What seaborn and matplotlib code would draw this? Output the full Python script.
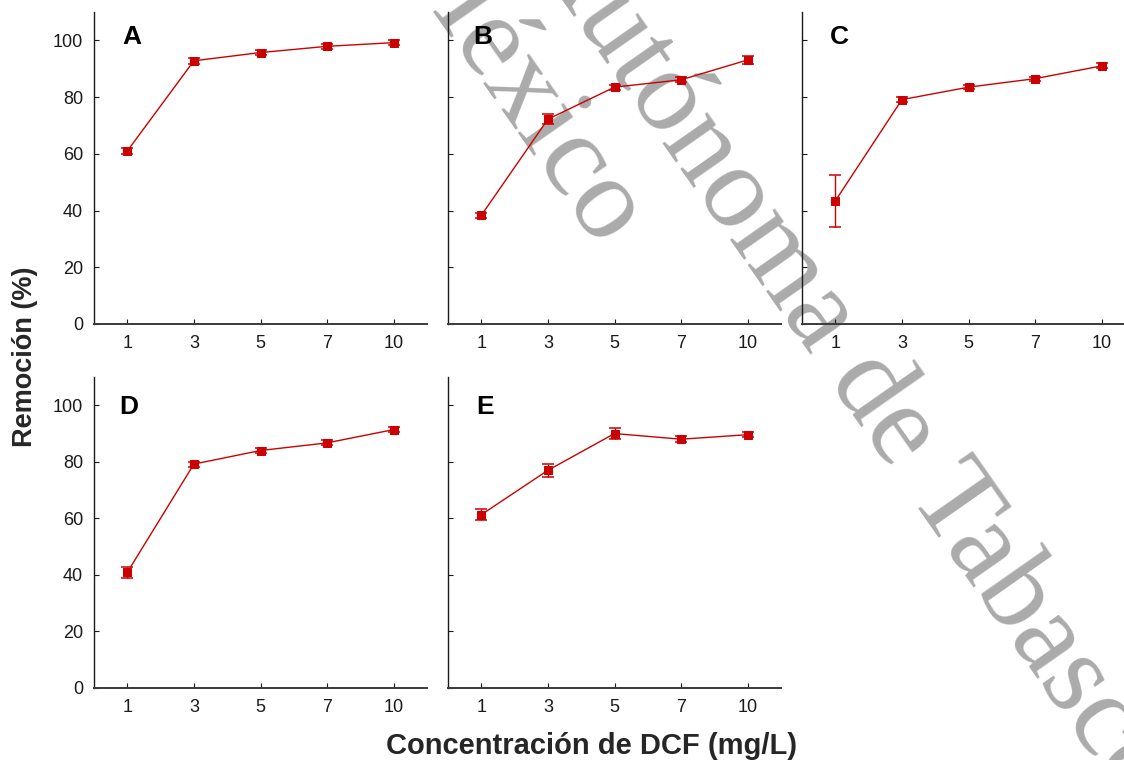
import numpy as np
import pandas as pd
import matplotlib
matplotlib.use("Agg")
import matplotlib.pyplot as plt
import seaborn as sns

# ---------------- data ----------------
conc_labels = ["1", "3", "5", "7", "10"]
panel_names = ["A", "B", "C", "D", "E"]

rem_A = [61.0, 92.8, 95.7, 97.9, 99.2]
err_A = [1.2, 1.0, 0.8, 0.8, 0.8]
rem_B = [38.3, 72.2, 83.5, 86.1, 93.1]
err_B = [0.9, 1.8, 0.9, 0.9, 1.3]
rem_C = [43.4, 79.1, 83.5, 86.5, 91.0]
err_C = [9.2, 0.9, 0.8, 0.7, 0.9]
rem_D = [40.9, 79.2, 84.0, 86.7, 91.4]
err_D = [1.9, 0.9, 0.8, 0.9, 1.0]
rem_E = [61.3, 77.0, 90.0, 88.0, 89.6]
err_E = [1.9, 2.2, 2.0, 1.0, 0.8]

series = {"A": (rem_A, err_A), "B": (rem_B, err_B), "C": (rem_C, err_C),
          "D": (rem_D, err_D), "E": (rem_E, err_E)}

ylabel = "Remoción (%)"
xlabel = "Concentración de DCF (mg/L)"
yticks = [0, 20, 40, 60, 80, 100]
watermark_1 = "Autónoma de Tabasco"
watermark_2 = "México"

RED = "#cc0000"

# ---------------- style ----------------
sns.set_style("ticks")
plt.rcParams["font.family"] = ["Liberation Sans", "DejaVu Sans"]

W, H = 1124, 760
fig = plt.figure(figsize=(W / 100, H / 100), dpi=100)
fig.patch.set_facecolor("white")

def px_rect(left, right, bottom, top):
    return [left / W, (H - bottom) / H, (right - left) / W, (bottom - top) / H]

rects = {
    "A": px_rect(94, 427, 324, 12),
    "B": px_rect(448, 781, 324, 12),
    "C": px_rect(802, 1135, 324, 12),
    "D": px_rect(94, 427, 688, 377),
    "E": px_rect(448, 781, 688, 377),
}

for name in panel_names:
    vals, errs = series[name]
    ax = fig.add_axes(rects[name])
    ax.set_facecolor("none")
    df = pd.DataFrame({"conc": conc_labels, "rem": vals})
    sns.pointplot(data=df, x="conc", y="rem", order=conc_labels, color=RED,
                  markers="s", linestyles="-", errorbar=None, ax=ax,
                  markersize=6.4, linewidth=1.0)
    ax.errorbar(np.arange(len(conc_labels)), vals, yerr=errs, fmt="none",
                ecolor=RED, elinewidth=1.0, capsize=4.5, capthick=1.1, zorder=3)
    ax.set_xlim(-0.5, len(conc_labels) - 0.5)
    ax.set_ylim(0, 110)
    ax.set_yticks(yticks)
    ax.set_xlabel("")
    ax.set_ylabel("")
    for s in ["top", "right"]:
        ax.spines[s].set_visible(False)
    ax.spines["left"].set_color("#1a1a1a")
    ax.spines["left"].set_linewidth(1.0)
    ax.spines["bottom"].set_color("#3a3a3a")
    ax.spines["bottom"].set_linewidth(1.4)
    ax.tick_params(axis="both", direction="in", length=3.5, width=0.8,
                   color="#1a1a1a", labelsize=13, labelcolor="#1a1a1a", pad=8)
    if name in ("A", "D"):
        ax.set_yticklabels([str(t) for t in yticks])
    else:
        ax.set_yticklabels([])
    ypos = 0.92 if name in ("A", "B", "C") else 0.904
    xpos = 0.084 if name in ("A", "C", "E") else 0.076
    ax.text(xpos, ypos, name, transform=ax.transAxes, fontsize=19,
            fontweight="bold", ha="left", va="center", color="black")

fig.text(25 / W, 1 - 357 / H, ylabel, rotation=90, fontsize=19.5,
         fontweight="bold", ha="center", va="center")
fig.text(592 / W, 1 - 746 / H, xlabel, fontsize=21, fontweight="bold",
         ha="center", va="center")

# watermark (behind the data)
wm_kw = dict(fontsize=85, color="#ababab", rotation=-55, rotation_mode="anchor",
             ha="center", va="center", zorder=-1,
             family=["Liberation Serif", "DejaVu Serif"])
fig.text(850 / W, 1 - 362 / H, watermark_1, **wm_kw)
fig.text(517 / W, 1 - 88 / H, watermark_2, **wm_kw)

fig.savefig("out.png", dpi=100, facecolor="white")
